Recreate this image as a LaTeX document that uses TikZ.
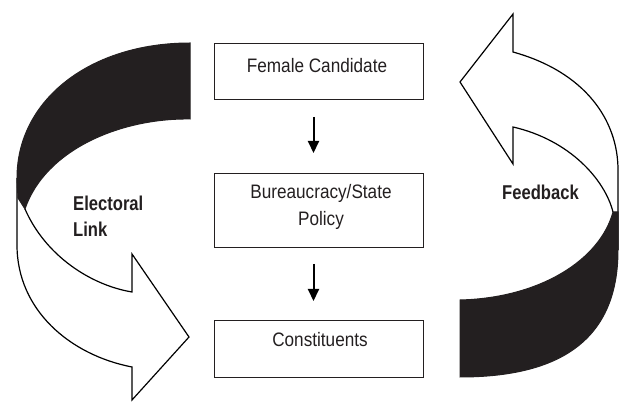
\documentclass[tikz,border=0pt]{standalone}
\usepackage{fontspec}
\setmainfont{Liberation Sans}
\newfontfamily\boxfont[FakeStretch=0.88]{Liberation Sans}
\newfontfamily\lblfont[FakeStretch=0.83]{Liberation Sans Bold}
\usetikzlibrary{arrows.meta}
\definecolor{ink}{RGB}{35,31,32}
\begin{document}
\begin{tikzpicture}[x=1pt,y=-1pt,
  box/.style={draw=ink, line width=1pt, minimum width=209pt, inner sep=0pt, anchor=north west},
  boxtext/.style={inner sep=0pt, anchor=base, text=ink, font=\boxfont\fontsize{19.5}{23}\selectfont},
  sidetext/.style={inner sep=0pt, anchor=base west, text=ink, font=\lblfont\fontsize{20}{24}\selectfont},
  flow/.style={draw=black, line width=2pt, -{Triangle[length=12pt,width=11pt]}},
  ribbon/.style={draw=black, line width=1.2pt},
  back/.style={draw=ink, line width=1pt, fill=ink}]
\useasboundingbox (0,0) rectangle (622,403);

% boxes
\node[box, minimum height=56pt] (fc) at (214,43) {};
\node[box, minimum height=74pt] (bp) at (214,173) {};
\node[box, minimum height=57pt] (co) at (214,320) {};

\node[boxtext] (tfc) at (317,72.5) {Female Candidate};
\node[boxtext] (tbp1) at (321,199) {Bureaucracy/State};
\node[boxtext] (tbp2) at (321,226) {Policy};
\node[boxtext] (tco) at (320,347) {Constituents};

% small arrows
\draw[flow, shorten <=17pt, shorten >=20pt] ([xshift=-5.5pt]fc.south) -- ([xshift=-5.5pt]bp.north);
\draw[flow, shorten <=16pt, shorten >=19pt] ([xshift=-5.5pt]bp.south) -- ([xshift=-5.5pt]co.north);

% left ribbon arrow (Electoral Link)
\draw[ribbon] (25,209) .. controls (45,255) and (90,285) .. (132,292)
  -- (132,254) -- (189,337) -- (132,400) -- (132,367)
  .. controls (70,355) and (17,310) .. (17,245) -- (17,178);
\filldraw[back] (190,43) .. controls (90,43) and (17,100) .. (17,178)
  -- (18,198) -- (25,209) .. controls (45,150) and (120,118) .. (190,119) -- cycle;

% right ribbon arrow (Feedback)
\draw[ribbon] (613,212) .. controls (605,180) and (570,140) .. (513,127)
  -- (513,164) -- (460,82) -- (513,14) -- (513,52)
  .. controls (585,72) and (618,120) .. (618,170) -- (618,250);
\filldraw[back] (460,300) -- (460,377) .. controls (560,377) and (618,340) .. (618,250)
  -- (618,212) -- (613,212) .. controls (600,260) and (540,298) .. (460,300) -- cycle;

% side labels
\node[sidetext] (el1) at (73,211) {Electoral};
\node[sidetext] (el2) at (73,237) {Link};
\node[sidetext] (fb) at (502,200) {Feedback};
\end{tikzpicture}
\end{document}
